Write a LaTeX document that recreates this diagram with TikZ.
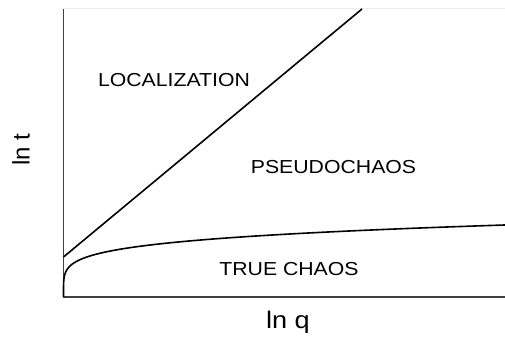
\documentclass[tikz,border=0pt]{standalone}
\usepackage{fontspec}
\setmainfont{Liberation Sans}
\usepackage{tikz}

\begin{document}
\begin{tikzpicture}[x=0.5pt,y=-0.5pt,line width=0.8pt,
  region/.style={font=\fontsize{9.4}{11}\selectfont,xscale=1.13,inner sep=0pt},
  axlabel/.style={font=\fontsize{12}{14}\selectfont,inner sep=0pt}]
\useasboundingbox (0,0) rectangle (505,340);
% frame points
\coordinate (origin) at (63.5,297);
\coordinate (ytop) at (63.5,9);
\coordinate (xend) at (505,297);
\coordinate (rtop) at (505,9);
\coordinate (lstart) at (63.5,257);
\coordinate (lend) at (362,9);

% axes
\draw[black!8,line width=0.5pt] (ytop) -- (rtop);
\draw[black!75] (ytop) -- (origin) -- (xend);

% boundaries
\draw (lstart) -- (lend);
\draw[samples=80,domain=0:3.382,variable=\s]
  plot ({63.5+\s*\s*\s*\s*\s},{297-21.3*\s});

% regions
\node[region] (loc) at (174,80) {LOCALIZATION};
\node[region] (pseudo) at (333.5,167) {PSEUDOCHAOS};
\node[region] (truechaos) at (289,269) {TRUE CHAOS};

% axis labels
\node[axlabel,xscale=1.13] (xlab) at (288,322) {ln q};
\node[axlabel,rotate=90] (ylab) at (21,150) {ln t};
\end{tikzpicture}
\end{document}
